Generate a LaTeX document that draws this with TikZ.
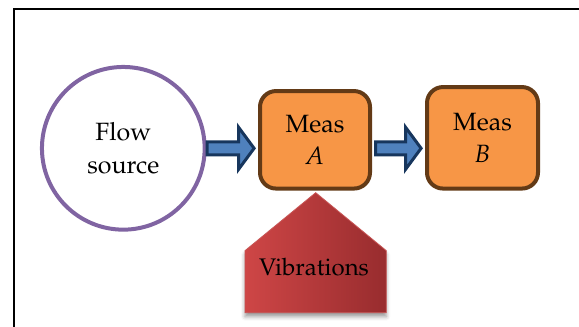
\documentclass[tikz,border=0pt]{standalone}
\usepackage[T1]{fontenc}
\usepackage{mathpazo}
\usetikzlibrary{calc, shadows.blur}
\definecolor{srcpurple}{RGB}{128,100,162}
\definecolor{measfill}{RGB}{247,150,70}
\definecolor{measedge}{RGB}{99,58,22}
\definecolor{flowfill}{RGB}{79,129,189}
\definecolor{flowedge}{RGB}{23,54,93}
\definecolor{vibleft}{RGB}{206,70,70}
\definecolor{vibright}{RGB}{152,44,46}
\definecolor{vibedge}{RGB}{200,84,84}
\tikzset{
   bigtext/.style={font=\fontsize{25}{32.5}\selectfont, align=center},
   measbox/.style={bigtext, draw=measedge, fill=measfill, line width=4pt,
      rounded corners=16pt, inner sep=0pt, minimum width=110pt},
   flowarrow/.style={draw=flowedge, fill=flowfill, line width=3pt, line join=miter},
   vibshape/.style={draw=vibedge, line width=0.8pt, left color=vibleft, right color=vibright,
      blur shadow={shadow xshift=0pt, shadow yshift=-4pt, shadow blur radius=4pt}},
}
\begin{document}
\begin{tikzpicture}[x=1pt,y=-1pt]
   \newcommand{\blockarrow}[2]{
      \draw[flowarrow] ($(#1)+(0,-6.5)$) -- ($(#2)+(-15.5,-6.5)$) -- ($(#2)+(-15.5,-21)$)
      -- (#2) -- ($(#2)+(-15.5,21)$) -- ($(#2)+(-15.5,6.5)$) -- ($(#1)+(0,6.5)$) -- cycle;
   }
   \useasboundingbox (0,0) rectangle (579,327);
   \draw[line width=2pt] (14.3,335) -- (14.3,9.3) -- (585,9.3);
   \node[bigtext, circle, draw=srcpurple, line width=4pt, minimum size=162.7pt, inner sep=0pt]
      (src) at (123.3,148.3) {Flow\\source};
   \node[measbox, minimum height=97.5pt] (measA) at (315,139.8) {Meas\\\textit{A}};
   \node[measbox, minimum height=101.5pt, minimum width=111pt] (measB) at (482.5,137.8)
      {Meas\\\textit{B}};
   \coordinate (s1) at ($(src.east)+(0.5,0)$);
   \coordinate (t1) at ($(src.east -| measA.west)+(-3.9,0)$);
   \coordinate (s2) at ($(src.east -| measA.east)+(3.5,0)$);
   \coordinate (t2) at ($(src.east -| measB.west)+(-3.9,0)$);
   \blockarrow{s1}{t1}
   \blockarrow{s2}{t2}
   \draw[vibshape] (245,250.7) -- (315.7,192.7) -- (386.3,250.7) -- (386.3,312.7)
      -- (245,312.7) -- cycle;
   \node[font=\fontsize{24}{30}\selectfont, anchor=base] (vib) at (314,275) {Vibrations};
\end{tikzpicture}
\end{document}
